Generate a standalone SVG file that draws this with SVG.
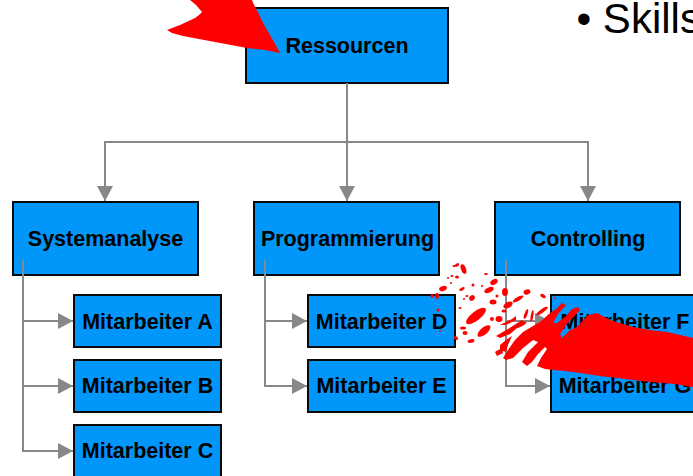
<svg xmlns="http://www.w3.org/2000/svg" width="693" height="476" viewBox="0 0 693 476">
<style>
.box{fill:#0096fa;stroke:#0a0a0a;stroke-width:2}
.lbl{font-family:"Liberation Sans",Arial,sans-serif;font-weight:bold;font-size:21.500px;fill:#000;text-anchor:middle}
.con{fill:none;stroke:#888;stroke-width:2}
.splat{fill:#f00;stroke:none}
</style>
<defs>
<marker id="ah" markerUnits="userSpaceOnUse" markerWidth="16" markerHeight="16" refX="15" refY="8" orient="auto"><path d="M0 0L15 8L0 16Z" fill="#888"/></marker>
</defs>
<g id="n-ressourcen"><rect class="box" x="246" y="8" width="202" height="75"/><text class="lbl" x="347" y="53">Ressourcen</text></g>
<g id="n-systemanalyse"><rect class="box" x="13" y="202" width="185" height="73"/><text class="lbl" x="105.500" y="246">Systemanalyse</text></g>
<g id="n-programmierung"><rect class="box" x="254" y="202" width="185" height="73"/><text class="lbl" x="347.500" y="246">Programmierung</text></g>
<g id="n-controlling"><rect class="box" x="495" y="202" width="185" height="73"/><text class="lbl" x="588" y="246">Controlling</text></g>
<g id="n-a"><rect class="box" x="74" y="295" width="147" height="52"/><text class="lbl" x="147.500" y="329">Mitarbeiter A</text></g>
<g id="n-b"><rect class="box" x="74" y="360" width="147" height="52"/><text class="lbl" x="147.500" y="393">Mitarbeiter B</text></g>
<g id="n-c"><rect class="box" x="74" y="425" width="147" height="52"/><text class="lbl" x="147.500" y="458">Mitarbeiter C</text></g>
<g id="n-d"><rect class="box" x="308" y="295" width="147" height="52"/><text class="lbl" x="381.500" y="329">Mitarbeiter D</text></g>
<g id="n-e"><rect class="box" x="308" y="360" width="147" height="52"/><text class="lbl" x="381.500" y="393">Mitarbeiter E</text></g>
<g id="n-f"><rect class="box" x="551" y="295" width="147" height="52"/><text class="lbl" x="625" y="329">Mitarbeiter F</text></g>
<g id="n-g"><rect class="box" x="551" y="360" width="147" height="52"/><text class="lbl" x="625" y="393">Mitarbeiter G</text></g>
<g id="connectors">
<path class="con" d="M347 83V201" marker-end="url(#ah)"/>
<path class="con" d="M347 142H105V201" marker-end="url(#ah)"/>
<path class="con" d="M347 142H588V201" marker-end="url(#ah)"/>
<path class="con" d="M23 260V451H73" marker-end="url(#ah)"/>
<path class="con" d="M23 321H73" marker-end="url(#ah)"/>
<path class="con" d="M23 386H73" marker-end="url(#ah)"/>
<path class="con" d="M265 260V386H307" marker-end="url(#ah)"/>
<path class="con" d="M265 321H307" marker-end="url(#ah)"/>
<path class="con" d="M506 260V386H550" marker-end="url(#ah)"/>
<path class="con" d="M506 321H550" marker-end="url(#ah)"/>
</g>
<text x="576.500" y="33" font-family="'Liberation Sans',Arial,sans-serif" font-size="42" fill="#000">• Skills</text>
<g id="splatter">
<path class="splat" d="M190 0L196 5L202 12L199 15L195 18L180 25L167 30L172 33L183 36L215 42L247 48L265 50L280 53L274 42L263 23L258 12L254 5L252 0Z"/>
<path class="splat" d="M693 338L667 332L650 330L633 327L610 320L597 313L593 314L588 315L577 327L570 330L562 338L560 334L566 325L580 310L578 307L572 309L566 316L557 323L553 323L558 314L566 305L562 303L556 309L550 313L540 322L533 326L523 332L515 340L508 350L503 358L506 360L513 358L523 348L533 340L538 342L528 352L522 362L527 366L532 362L538 354L545 347L547 349L541 358L537 366L545 369L553 370L565 371L580 373L600 376L617 378L650 382L675 384L693 387Z"/>
<path class="splat" d="M500 345L506 340L512 336L508 345L506 352L500 350Z"/>
<path class="splat" d="M495 352L502 348L503 353L497 356Z"/>
<path class="splat" d="M496 336L508 329L522 320L524 322L510 334L500 338Z"/>
<path class="splat" d="M500 325L512 319L516 316L516 320L506 325Z"/>
<ellipse class="splat" cx="463.500" cy="269" rx="2.500" ry="5" transform="rotate(-20 463.500 269)"/>
<ellipse class="splat" cx="457" cy="265" rx="2.500" ry="1.500" transform="rotate(-30 457 265)"/>
<ellipse class="splat" cx="454" cy="266" rx="1.500" ry="1"/>
<ellipse class="splat" cx="448" cy="278" rx="1" ry="1"/>
<ellipse class="splat" cx="452" cy="276" rx="1.500" ry="1"/>
<ellipse class="splat" cx="457" cy="277" rx="2" ry="1.500"/>
<ellipse class="splat" cx="451" cy="283" rx="1" ry="1"/>
<ellipse class="splat" cx="443" cy="288.500" rx="4" ry="2.500" transform="rotate(-20 443 288.500)"/>
<ellipse class="splat" cx="437" cy="296" rx="2" ry="3"/>
<ellipse class="splat" cx="432" cy="296" rx="1.500" ry="2"/>
<ellipse class="splat" cx="438" cy="310" rx="1.500" ry="1.500"/>
<ellipse class="splat" cx="440" cy="331" rx="1" ry="1"/>
<ellipse class="splat" cx="462" cy="289" rx="3" ry="1.500" transform="rotate(-30 462 289)"/>
<ellipse class="splat" cx="473" cy="285" rx="1.500" ry="1.500"/>
<ellipse class="splat" cx="482" cy="286" rx="1" ry="1"/>
<ellipse class="splat" cx="486" cy="274" rx="2" ry="1"/>
<ellipse class="splat" cx="472" cy="298" rx="3" ry="2.500" transform="rotate(-40 472 298)"/>
<ellipse class="splat" cx="467" cy="296" rx="1.500" ry="1"/>
<ellipse class="splat" cx="489" cy="290" rx="5" ry="2.500" transform="rotate(-25 489 290)"/>
<ellipse class="splat" cx="494" cy="282" rx="4" ry="2.500" transform="rotate(-30 494 282)"/>
<ellipse class="splat" cx="497" cy="296" rx="1.500" ry="1.500"/>
<ellipse class="splat" cx="505" cy="292" rx="3" ry="4"/>
<ellipse class="splat" cx="493" cy="302" rx="3.500" ry="2.500"/>
<ellipse class="splat" cx="476" cy="316" rx="12" ry="4.500" transform="rotate(-38 476 316)"/>
<ellipse class="splat" cx="484" cy="331" rx="8" ry="3.500" transform="rotate(-40 484 331)"/>
<ellipse class="splat" cx="471" cy="341" rx="3.500" ry="1.800" transform="rotate(-10 471 341)"/>
<ellipse class="splat" cx="463" cy="328" rx="3" ry="1.500"/>
<ellipse class="splat" cx="465" cy="333" rx="2.500" ry="2"/>
<ellipse class="splat" cx="456" cy="338" rx="2.500" ry="1.500" transform="rotate(30 456 338)"/>
<ellipse class="splat" cx="460" cy="308" rx="1.500" ry="1"/>
<ellipse class="splat" cx="464" cy="299" rx="1" ry="1"/>
<ellipse class="splat" cx="499" cy="319" rx="3.500" ry="3"/>
<ellipse class="splat" cx="492" cy="319" rx="2" ry="2"/>
<ellipse class="splat" cx="508" cy="305" rx="5" ry="3" transform="rotate(-30 508 305)"/>
<ellipse class="splat" cx="504" cy="311" rx="2.500" ry="1.500"/>
<ellipse class="splat" cx="518" cy="299" rx="6" ry="2" transform="rotate(-30 518 299)"/>
<ellipse class="splat" cx="527" cy="292" rx="3.500" ry="2.500" transform="rotate(-15 527 292)"/>
<ellipse class="splat" cx="543" cy="296" rx="3" ry="1.800" transform="rotate(30 543 296)"/>
<ellipse class="splat" cx="542" cy="311" rx="7" ry="1.800" transform="rotate(-35 542 311)"/>
<ellipse class="splat" cx="526" cy="314" rx="1.500" ry="5" transform="rotate(20 526 314)"/>
<ellipse class="splat" cx="532" cy="316" rx="1.300" ry="6" transform="rotate(10 532 316)"/>
<ellipse class="splat" cx="520" cy="325" rx="7" ry="2" transform="rotate(-25 520 325)"/>
<ellipse class="splat" cx="498" cy="352" rx="2" ry="1.500"/>
<ellipse class="splat" cx="555" cy="298" rx="1" ry="1"/>
</g>
</svg>
